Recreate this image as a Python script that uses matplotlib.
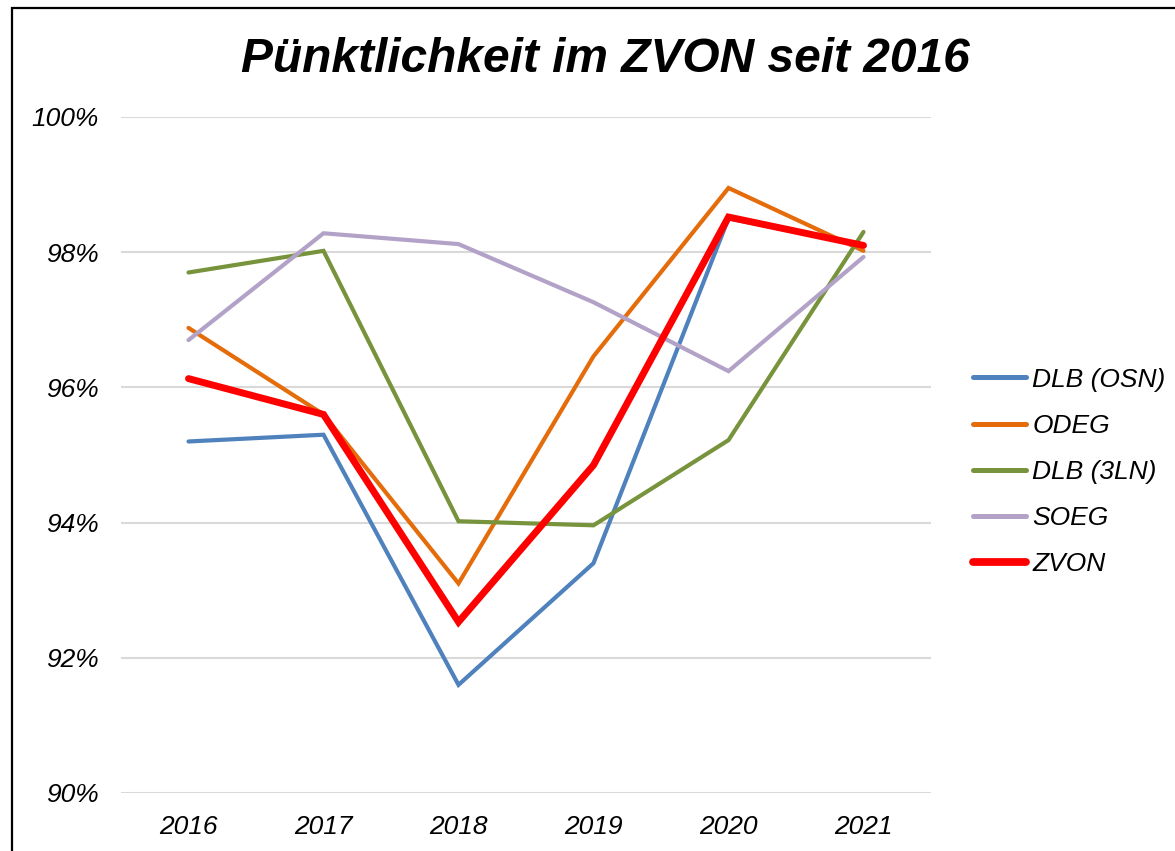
import matplotlib
matplotlib.use("Agg")
import matplotlib.pyplot as plt
from matplotlib.patches import Rectangle
from matplotlib.ticker import PercentFormatter

years = ["2016", "2017", "2018", "2019", "2020", "2021"]
dlb_osn = [95.20, 95.30, 91.60, 93.40, 98.50, 98.10]
odeg = [96.88, 95.60, 93.10, 96.46, 98.95, 98.02]
dlb_3ln = [97.70, 98.02, 94.02, 93.96, 95.22, 98.30]
soeg = [96.70, 98.28, 98.12, 97.26, 96.24, 97.93]
zvon = [96.13, 95.60, 92.53, 94.85, 98.52, 98.10]

series_names = ["DLB (OSN)", "ODEG", "DLB (3LN)", "SOEG", "ZVON"]
series_values = [dlb_osn, odeg, dlb_3ln, soeg, zvon]
colors = ["#4F81BD", "#E46C0A", "#77933C", "#B3A2C7", "#FF0000"]
widths = [3.0, 3.0, 3.0, 3.0, 5.0]
yticks = [90, 92, 94, 96, 98, 100]

plt.rcParams['font.family'] = ['Liberation Sans', 'DejaVu Sans']

W, H = 1175, 851
fig = plt.figure(figsize=(W / 100, H / 100), dpi=100)
fig.patch.set_facecolor("white")

ax_l, ax_r, ax_t, ax_b = 121, 931, 117, 793
ax = fig.add_axes([ax_l / W, (H - ax_b) / H, (ax_r - ax_l) / W, (ax_b - ax_t) / H])
x = list(range(len(years)))
for name, vals, c, lw in zip(series_names, series_values, colors, widths):
    ax.plot(x, vals, color=c, lw=lw, label=name, solid_capstyle="round",
            solid_joinstyle="miter")

ax.set_xlim(-0.5, len(years) - 0.5)
ax.set_ylim(90, 100)
ax.set_yticks(yticks)
ax.yaxis.set_major_formatter(PercentFormatter(decimals=0))
ax.set_xticks(x)
ax.set_xticklabels(years)
ax.grid(axis="y", color="#D9D9D9", lw=1.5)
ax.set_axisbelow(True)
for s in ax.spines.values():
    s.set_visible(False)
ax.tick_params(length=0, labelsize=19)
ax.tick_params(axis="y", pad=16)
ax.tick_params(axis="x", pad=16)
for lab in ax.get_xticklabels() + ax.get_yticklabels():
    lab.set_fontstyle("italic")

leg = ax.legend(loc="center left",
                bbox_to_anchor=((973 - ax_l) / (ax_r - ax_l), 1 - (472 - ax_t) / (ax_b - ax_t)),
                frameon=False, prop={"size": 19, "style": "italic"},
                borderpad=0, borderaxespad=0,
                handlelength=2.0, handletextpad=0.25, labelspacing=0.84)
for h in leg.get_lines():
    h.set_linewidth(h.get_linewidth() + 0.6)

fig.text(605 / W, 1 - 59 / H, "Pünktlichkeit im ZVON seit 2016", ha="center", va="center",
         fontsize=34.5, fontweight="bold", fontstyle="italic")

fig.patches.append(Rectangle((12 / W, -0.05), 1.2, 1.05 - 8 / H, transform=fig.transFigure,
                             fill=False, edgecolor="#000000", lw=1.6))

fig.savefig("out.png", dpi=100)
